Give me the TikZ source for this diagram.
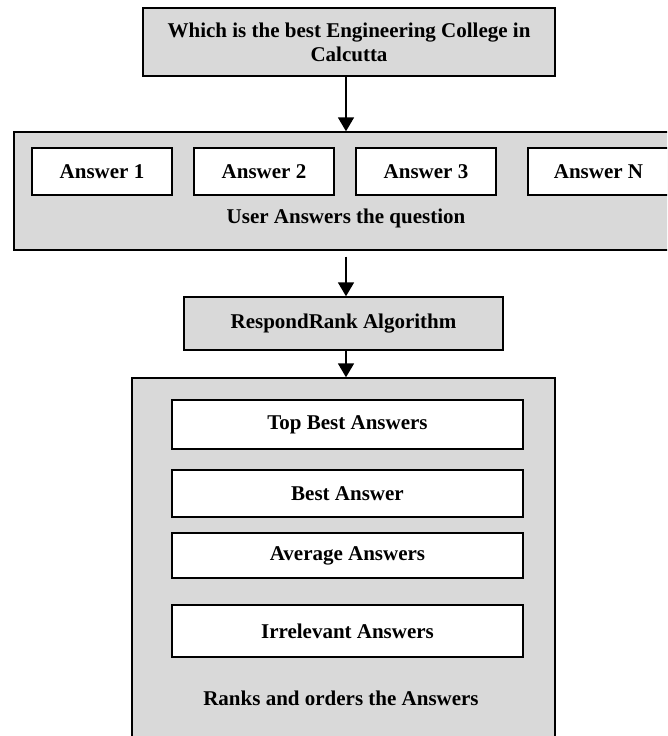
\documentclass[tikz,border=0pt]{standalone}
\usepackage{fontspec}
\setmainfont{Liberation Serif}
\usetikzlibrary{arrows.meta}
\definecolor{boxgray}{HTML}{D9D9D9}
\begin{document}
\begin{tikzpicture}[x=1pt,y=-1pt,
  graybox/.style={draw=black, fill=boxgray, line width=1.4pt, inner sep=0pt},
  whitebox/.style={draw=black, fill=white, line width=1.6pt, inner sep=0pt},
  lbl/.style={font=\fontsize{21}{24}\selectfont\bfseries, align=center, inner sep=0pt},
  arr/.style={-{Triangle[width=16pt,length=14pt]}, line width=1.8pt}]
\clip (0,0) rectangle (667,736);
\coordinate (ax) at (346,0);
% question
\node[graybox, lbl, minimum width=412pt, minimum height=68pt] (q) at (349,42)
  {Which is the best Engineering College in\\Calcutta};
% user answers
\node[graybox, minimum width=680pt, minimum height=118pt] (ua) at (354,191) {};
\node[whitebox, lbl, minimum width=140pt, minimum height=47pt] (a1) at (102,171.5) {Answer 1};
\node[whitebox, lbl, minimum width=140pt, minimum height=47pt] (a2) at (264,171.5) {Answer 2};
\node[whitebox, lbl, minimum width=140pt, minimum height=47pt] (a3) at (426,171.5) {Answer 3};
\node[whitebox, lbl, minimum width=141pt, minimum height=47pt] (an) at (598.5,171.5) {Answer N};
\node[lbl] (uat) at (346,218) {User Answers the question};
% algorithm
\node[graybox, lbl, minimum width=319pt, minimum height=53pt] (rr) at (343.5,323.5) {RespondRank Algorithm};
% ranking
\node[graybox, minimum width=423pt, minimum height=380pt] (rk) at (343.5,568) {};
\node[whitebox, lbl, minimum width=351pt, minimum height=49pt] (tb) at (347.5,424.5) {Top Best Answers};
\node[whitebox, lbl, minimum width=351pt, minimum height=47pt] (ba) at (347.5,493.5) {Best Answer};
\node[whitebox, lbl, minimum width=351pt, minimum height=45pt] (av) at (347.5,555.5) {Average Answers};
\node[whitebox, lbl, minimum width=351pt, minimum height=52pt] (ir) at (347.5,631) {Irrelevant Answers};
\node[lbl] (rkt) at (341,698) {Ranks and orders the Answers};
% connectors
\draw[arr] (q.south -| ax) -- (ua.north -| ax);
\draw[arr] ([yshift=-6pt]ua.south -| ax) -- (rr.north -| ax);
\draw[arr] (rr.south -| ax) -- (rk.north -| ax);
\end{tikzpicture}
\end{document}
